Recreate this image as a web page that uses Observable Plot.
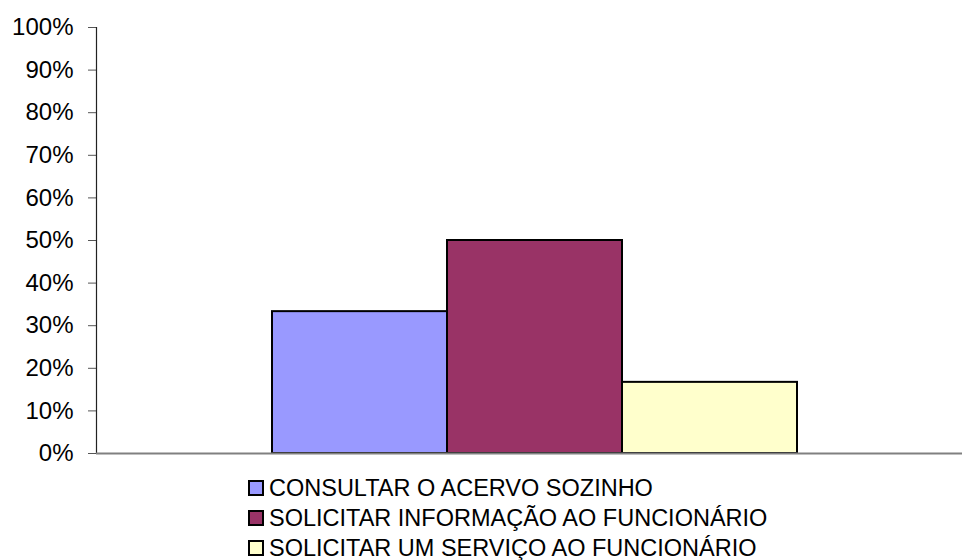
<!DOCTYPE html>
<html>
<head>
<meta charset="utf-8">
<script src="https://cdn.jsdelivr.net/npm/d3@7"></script>
<script src="https://cdn.jsdelivr.net/npm/@observablehq/plot@0.6"></script>
<style>
  body { margin: 0; background: #fff; font-family: Arial, "Liberation Sans", sans-serif; }
  #legend { margin-top: 3px; padding-left: 248px; }
  .row { height: 30px; line-height: 30px; font-size: 23.5px; color: #000; display: flex; align-items: center; white-space: nowrap; }
  .sw { width: 12px; height: 12px; border: 2px solid #000; margin-right: 5px; flex: none; }
</style>
</head>
<body>
<div id="chart"></div>
<div id="legend"></div>
<script>
const series = ["CONSULTAR O ACERVO SOZINHO", "SOLICITAR INFORMAÇÃO AO FUNCIONÁRIO", "SOLICITAR UM SERVIÇO AO FUNCIONÁRIO"];
const values = [0.333, 0.5, 0.167];
const colors = ["#9999FF", "#993366", "#FFFFCC"];
const yTicks = [0, 0.1, 0.2, 0.3, 0.4, 0.5, 0.6, 0.7, 0.8, 0.9, 1.0];

const data = series.map((s, i) => ({name: s, value: values[i]}));

const chart = Plot.plot({
  width: 962,
  height: 470,
  marginTop: 27,
  marginBottom: 17,
  marginLeft: 96,
  marginRight: 0,
  style: {fontFamily: "Arial, 'Liberation Sans', sans-serif", fontSize: "24px", color: "#000", background: "#fff", overflow: "visible"},
  x: {type: "band", domain: series, range: [271, 797], padding: 0, axis: null},
  y: {domain: [0, 1], axis: null},
  color: {domain: series, range: colors},
  marks: [
    Plot.barY(data, {x: "name", y: "value", fill: "name", stroke: "#000", strokeWidth: 2}),
    Plot.axisY({ticks: yTicks, tickFormat: d3.format(".0%"), tickSize: 8, tickPadding: 15, stroke: "#555", fill: "#000", fontSize: 24, label: null}),
    Plot.frame({anchor: "left", stroke: "#222", strokeWidth: 1.2}),
    Plot.ruleY([0], {stroke: "#808080", strokeWidth: 2})
  ]
});
document.getElementById("chart").appendChild(chart);

const legend = document.getElementById("legend");
series.forEach((s, i) => {
  const row = document.createElement("div");
  row.className = "row";
  const sw = document.createElement("span");
  sw.className = "sw";
  sw.style.background = colors[i];
  const t = document.createElement("span");
  t.textContent = s;
  row.appendChild(sw);
  row.appendChild(t);
  legend.appendChild(row);
});
</script>
</body>
</html>
